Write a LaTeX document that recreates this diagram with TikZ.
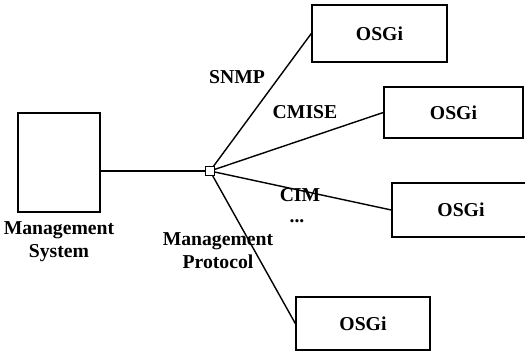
\documentclass[tikz,border=0pt]{standalone}
\usepackage{fontspec}
\setmainfont{Liberation Serif}
\usepackage{tikz}
\usetikzlibrary{positioning}

\begin{document}
\begin{tikzpicture}[x=1cm,y=1cm,font=\fontsize{11.2}{13}\selectfont\bfseries,
  osgibox/.style={draw,thick,minimum width=2.7cm,minimum height=1.08cm},
  link/.style={thick}]
\useasboundingbox (0,0) rectangle (10.5,7.1);
\node[draw,thick,minimum width=1.64cm,minimum height=1.98cm] (ms) at (1.18,3.85) {};
\node[align=center,below=0.05cm of ms] (mslabel) {Management\\System};
\node[draw,fill=white,thick,inner sep=0pt,minimum size=0.17cm] (hub) at (4.2,3.68) {};
\node[align=center] (mp) at (4.36,2.08) {Management\\Protocol};
\node[osgibox,minimum height=1.14cm] (o1) at (7.59,6.43) {OSGi};
\node[osgibox,minimum width=2.78cm,minimum height=1.02cm] (o2) at (9.07,4.85) {OSGi};
\node[osgibox,minimum width=2.76cm] (o3) at (9.22,2.9) {OSGi};
\node[osgibox,minimum width=2.68cm,minimum height=1.06cm] (o4) at (7.26,0.63) {OSGi};
\draw[link] (ms.east|-hub) -- (hub);
\foreach \o in {o1,o2,o3,o4} {\draw[link] (hub) -- (\o.west);}
\node (snmp) at (4.74,5.56) {SNMP};
\node (cmise) at (6.1,4.86) {CMISE};
\node (cim) at (6.0,3.2) {CIM};
\node (dots) at (5.94,2.68) {...};
\end{tikzpicture}
\end{document}
